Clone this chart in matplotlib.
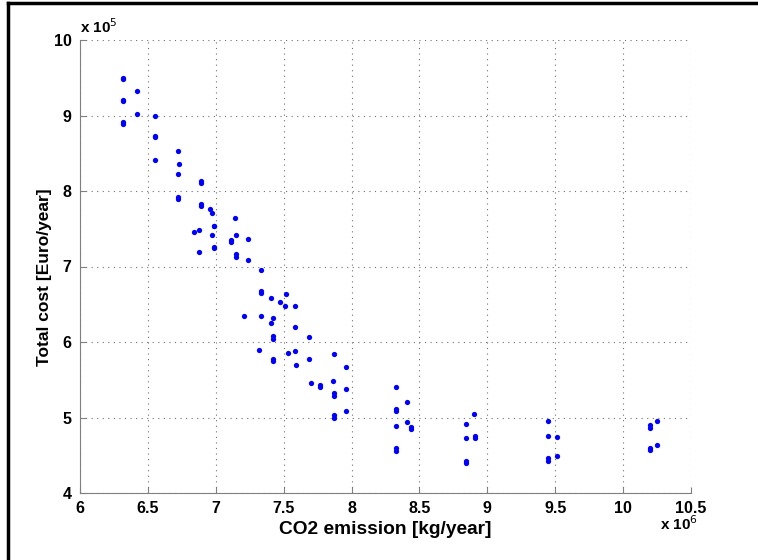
import matplotlib
matplotlib.use("Agg")
import matplotlib.pyplot as plt
from matplotlib.lines import Line2D

# CO2 emission (x 10^6 kg/year) and total cost (x 10^5 Euro/year)
co2 = [6.315, 6.315, 6.32, 6.32, 6.32, 6.32, 6.42, 6.42,
       6.55, 6.55, 6.55, 6.55,
       6.72, 6.73, 6.72, 6.72, 6.72,
       6.89, 6.89, 6.89, 6.89, 6.96, 6.97, 6.99, 6.99, 6.84, 6.88, 6.97, 6.99, 6.99, 6.88,
       7.14, 7.15, 7.11, 7.11, 7.15, 7.15, 7.24, 7.24, 7.33,
       7.33, 7.33, 7.41, 7.47, 7.52, 7.51, 7.58, 7.21, 7.33, 7.42, 7.41, 7.58,
       7.42, 7.42, 7.69, 7.32, 7.53, 7.58, 7.42, 7.42, 7.69, 7.59, 7.87, 7.96,
       7.70, 7.77, 7.77, 7.86, 7.87, 7.87, 7.96, 7.96, 7.87, 7.87,
       8.33, 8.41, 8.33, 8.33, 8.33, 8.41, 8.44, 8.44, 8.33, 8.33,
       8.84, 8.90, 8.84, 8.91, 8.91, 8.84, 8.84,
       9.45, 9.45, 9.51, 9.45, 9.45, 9.51,
       10.20, 10.20, 10.25, 10.20, 10.20, 10.25]
cost = [9.50, 9.48, 9.21, 9.19, 8.91, 8.89, 9.32, 9.02,
        9.00, 8.73, 8.72, 8.41,
        8.53, 8.36, 8.22, 7.92, 7.90,
        8.13, 8.10, 7.83, 7.80, 7.76, 7.71, 7.54, 7.53, 7.46, 7.48, 7.42, 7.26, 7.24, 7.19,
        7.64, 7.42, 7.35, 7.32, 7.17, 7.13, 7.37, 7.08, 6.95,
        6.67, 6.65, 6.58, 6.53, 6.64, 6.48, 6.48, 6.34, 6.35, 6.32, 6.25, 6.20,
        6.08, 6.04, 6.07, 5.90, 5.85, 5.88, 5.78, 5.75, 5.77, 5.69, 5.84, 5.67,
        5.46, 5.43, 5.41, 5.49, 5.33, 5.28, 5.38, 5.08, 5.03, 5.00,
        5.41, 5.20, 5.11, 5.08, 4.89, 4.94, 4.88, 4.85, 4.59, 4.56,
        4.92, 5.04, 4.73, 4.76, 4.73, 4.43, 4.40,
        4.95, 4.76, 4.74, 4.46, 4.42, 4.49,
        4.90, 4.86, 4.95, 4.60, 4.57, 4.64]

xticks = [6, 6.5, 7, 7.5, 8, 8.5, 9, 9.5, 10, 10.5]
xticklabels = ["6", "6.5", "7", "7.5", "8", "8.5", "9", "9.5", "10", "10.5"]
yticks = [4, 5, 6, 7, 8, 9, 10]

plt.rcParams['font.family'] = ['Liberation Sans', 'DejaVu Sans']

fig = plt.figure(figsize=(7.58, 5.6), dpi=100)
ax = fig.add_axes([80/758, 1-493/560, 611/758, 453/560])

ax.plot(co2, cost, 'o', color=(0, 0, 1), markersize=3.8, markeredgewidth=0)

ax.set_xlim(6, 10.5)
ax.set_ylim(4, 10)
ax.set_xticks(xticks)
ax.set_xticklabels(xticklabels)
ax.set_yticks(yticks)
ax.tick_params(direction='in', length=4, color='#808080', labelsize=11.5, pad=6)
for lab in ax.get_xticklabels() + ax.get_yticklabels():
    lab.set_fontweight('bold')

ax.grid(True, color='#707070', linestyle=(0, (1, 4)), linewidth=0.8)
for s in ['top', 'right']:
    ax.spines[s].set_visible(False)
for s in ['left', 'bottom']:
    ax.spines[s].set_color('#808080')

ax.set_xlabel("CO2 emission [kg/year]", fontsize=13.8, fontweight='bold', labelpad=3)
ax.set_ylabel("Total cost [Euro/year]", fontsize=12.5, fontweight='bold')
ax.yaxis.set_label_coords(-0.046, 0.477)

fig.text(80/758, 1-33/560, r"x 10$^{5}$", fontsize=11, fontweight='bold', va='baseline')
fig.text(660/758, 1-530/560, r"x 10$^{6}$", fontsize=11, fontweight='bold', va='baseline')

# outer frame (top and left)
fig.add_artist(Line2D([8/758, 1], [1-3/560, 1-3/560], color='black', linewidth=2.5,
                      transform=fig.transFigure))
fig.add_artist(Line2D([8/758, 8/758], [0, 1-3/560], color='black', linewidth=2.5,
                      transform=fig.transFigure))

fig.savefig("out.png", dpi=100)
